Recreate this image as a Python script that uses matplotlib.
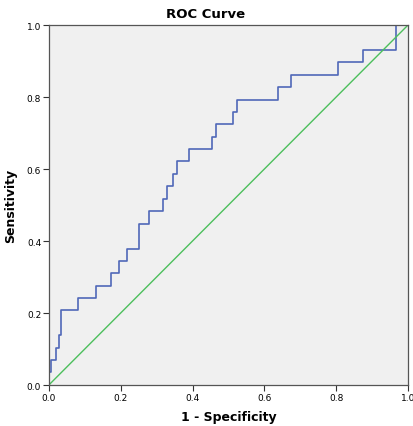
import matplotlib.pyplot as plt

# ROC curve step points (1 - specificity, sensitivity)
fpr = [0.0, 0.0, 0.006, 0.006, 0.021, 0.021, 0.027, 0.027, 0.034, 0.034,
       0.081, 0.081, 0.132, 0.132, 0.173, 0.173, 0.195, 0.195, 0.217, 0.217,
       0.252, 0.252, 0.280, 0.280, 0.317, 0.317, 0.329, 0.329, 0.345, 0.345,
       0.357, 0.357, 0.391, 0.391, 0.453, 0.453, 0.465, 0.465, 0.512, 0.512,
       0.523, 0.523, 0.639, 0.639, 0.673, 0.673, 0.806, 0.806, 0.875, 0.875,
       0.967, 0.967, 1.0]
tpr = [0.0, 0.035, 0.035, 0.069, 0.069, 0.104, 0.104, 0.138, 0.138, 0.207,
       0.207, 0.241, 0.241, 0.276, 0.276, 0.310, 0.310, 0.345, 0.345, 0.379,
       0.379, 0.448, 0.448, 0.483, 0.483, 0.517, 0.517, 0.552, 0.552, 0.586,
       0.586, 0.621, 0.621, 0.655, 0.655, 0.690, 0.690, 0.724, 0.724, 0.759,
       0.759, 0.793, 0.793, 0.828, 0.828, 0.862, 0.862, 0.897, 0.897, 0.931,
       0.931, 1.0, 1.0]
ref_line = [0.0, 1.0]
ticks = [0.0, 0.2, 0.4, 0.6, 0.8, 1.0]
tick_labels = ["0.0", "0.2", "0.4", "0.6", "0.8", "1.0"]

fig = plt.figure(figsize=(4.14, 4.27), dpi=100)
ax = fig.add_axes([0.118, 0.096, 0.8675, 0.843])
ax.set_facecolor('#f0f0f0')

ax.plot(fpr, tpr, color='#5068b8', linewidth=1.2)
ax.plot(ref_line, ref_line, color='#4cbf5c', linewidth=1.0)

ax.set_xlim(0, 1)
ax.set_ylim(0, 1)
ax.set_xticks(ticks)
ax.set_xticklabels(tick_labels)
ax.set_yticks(ticks)
ax.set_yticklabels(tick_labels)
ax.tick_params(labelsize=6.5, length=4, width=0.8, color='#333333', pad=1.5)

for s in ax.spines.values():
    s.set_color('#555555')
    s.set_linewidth(0.9)

# title is centred on the whole figure, not on the plot area
fig.text(0.497, 0.965, 'ROC Curve', fontsize=9.5, fontweight='bold',
         ha='center', va='center')
ax.set_xlabel('1 - Specificity', fontsize=9, fontweight='bold', labelpad=6)
ax.set_ylabel('Sensitivity', fontsize=9, fontweight='bold', labelpad=7)

fig.savefig('out.png', dpi=100)
